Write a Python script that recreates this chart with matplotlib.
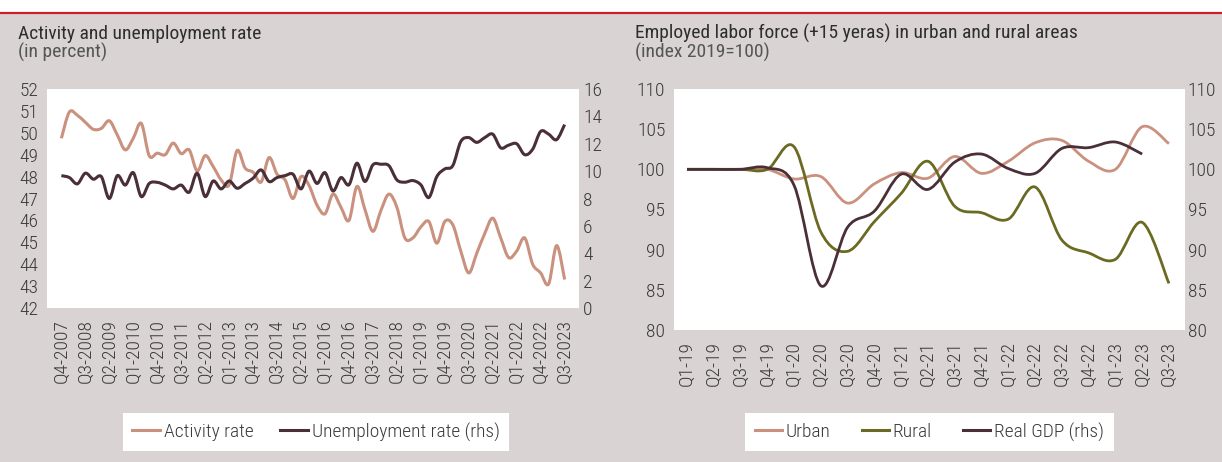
import numpy as np
import matplotlib
matplotlib.use('Agg')
from matplotlib import pyplot as plt
from matplotlib.path import Path
from matplotlib.patches import PathPatch, Rectangle
from matplotlib.lines import Line2D

plt.rcParams['font.family'] = ['Liberation Sans Narrow', 'Roboto Condensed', 'DejaVu Sans']
plt.rcParams['font.stretch'] = 'condensed'
plt.rcParams['font.weight'] = 'light'

# left chart: Q4-2007 .. Q3-2023
quarters = [f'Q{q}-{y}' for y in range(2007, 2024) for q in range(1, 5)][3:-1]
activity_rate = [49.75, 50.95, 50.8, 50.48, 50.16, 50.2, 50.55, 49.9, 49.22, 49.75,
                 50.43, 48.95, 49.07, 49.0, 49.53, 49.05, 49.22, 48.26, 48.96, 48.46,
                 47.85, 47.62, 49.19, 48.39, 48.2, 47.75, 48.87, 48.11, 47.85, 47.0,
                 48.0, 47.6, 46.7, 46.3, 47.2, 46.6, 46.0, 47.55, 46.5, 45.5,
                 46.45, 47.2, 46.6, 45.2, 45.2, 45.7, 45.95, 44.96, 45.95, 45.8,
                 44.6, 43.6, 44.5, 45.4, 46.1, 45.2, 44.3, 44.6, 45.2, 44.0,
                 43.6, 43.1, 44.85, 43.3]
unemployment_rate = [9.67, 9.53, 9.07, 9.85, 9.41, 9.6, 8.0, 9.67, 8.98, 9.89,
                     8.14, 9.1, 9.18, 8.98, 8.7, 8.98, 8.46, 9.85, 8.14, 9.28,
                     8.7, 9.28, 8.75, 9.1, 9.48, 10.09, 9.24, 9.53, 9.67, 9.77,
                     8.7, 10.0, 9.1, 9.89, 8.55, 9.53, 9.0, 10.58, 9.24, 10.46,
                     10.5, 10.4, 9.36, 9.19, 9.31, 9.0, 8.07, 9.6, 10.16, 10.4,
                     12.16, 12.45, 12.1, 12.45, 12.7, 11.7, 11.9, 12.0, 11.2, 11.6,
                     12.9, 12.7, 12.3, 13.4]

# right chart: Q1-19 .. Q3-23
quarters_short = ['Q1-19', 'Q2-19', 'Q3-19', 'Q4-19', 'Q1-20', 'Q2-20', 'Q3-20', 'Q4-20',
                  'Q1-21', 'Q2-21', 'Q3-21', 'Q4-21', 'Q1-22', 'Q2-22', 'Q3-22', 'Q4-22',
                  'Q1-23', 'Q2-23', 'Q3-23']
urban = [100.0, 100.0, 100.0, 100.0, 98.8, 99.1, 95.8, 98.2, 99.6, 98.9,
         101.6, 99.5, 101.0, 103.3, 103.6, 101.0, 100.0, 105.3, 103.2]
rural = [100.0, 100.0, 100.0, 100.0, 102.8, 92.2, 89.8, 93.5, 97.0, 101.0,
         95.4, 94.6, 93.8, 97.8, 91.2, 89.6, 88.8, 93.4, 85.8]
real_gdp = [100.0, 100.0, 100.0, 100.2, 98.0, 85.5, 92.8, 94.8, 99.4, 97.5,
            100.9, 101.9, 100.1, 99.5, 102.6, 102.7, 103.4, 101.9]

PINK = '#c9917e'
DARK = '#4a2f37'
OLIVE = '#6b6a22'
BG = '#d9d3d3'
RED = '#c8202f'
TXT = '#3a3a3a'
W, H = 1222, 462


def smooth_path(y):
    # excel-like smoothed line (catmull-rom bezier through the points)
    x = np.arange(len(y), dtype=float)
    y = np.asarray(y, dtype=float)
    n = len(y)
    verts = [(x[0], y[0])]
    codes = [Path.MOVETO]
    for i in range(n - 1):
        p0 = max(i - 1, 0)
        p3 = min(i + 2, n - 1)
        c1 = (x[i] + (x[i + 1] - x[p0]) / 6, y[i] + (y[i + 1] - y[p0]) / 6)
        c2 = (x[i + 1] - (x[p3] - x[i]) / 6, y[i + 1] - (y[p3] - y[i]) / 6)
        verts += [c1, c2, (x[i + 1], y[i + 1])]
        codes += [Path.CURVE4] * 3
    return Path(verts, codes)


def draw(ax, y, color, lw=2.0):
    ax.add_patch(PathPatch(smooth_path(y), fill=False, edgecolor=color, lw=lw,
                           capstyle='butt', joinstyle='round'))


def style(ax, pad):
    for s in ax.spines.values():
        s.set_visible(False)
    ax.tick_params(axis='both', length=0, labelsize=14, colors=TXT)
    ax.tick_params(axis='y', pad=pad)


def box(x0, y0, x1, y1):
    return [x0 / W, 1 - y1 / H, (x1 - x0) / W, (y1 - y0) / H]


fig = plt.figure(figsize=(W / 100, H / 100), dpi=100, facecolor=BG)
fig.add_artist(Rectangle((0, 1 - 12 / H), 1, 12 / H, transform=fig.transFigure,
                         facecolor='white', edgecolor='none'))
fig.add_artist(Line2D([0, 1], [1 - 13 / H] * 2, transform=fig.transFigure, color=RED, lw=1.6))

# ---- left chart
ax = fig.add_axes(box(47, 89, 579, 308))
ax.set_facecolor('white')
ax2 = ax.twinx()
draw(ax, activity_rate, PINK, 2.2)
draw(ax2, unemployment_rate, DARK, 2.2)
ax.set_xlim(-1.8, 64.8)
ax.set_ylim(42, 52)
ax2.set_ylim(0, 16)
ax.set_yticks(range(42, 53))
ax2.set_yticks(range(0, 17, 2))
ax.set_xticks(range(0, len(quarters), 3))
ax.set_xticklabels(quarters[::3], rotation=90)
style(ax, 6)
style(ax2, 3)
ax.tick_params(axis='x', pad=8)

fig.text(18 / W, 1 - 39 / H, 'Activity and unemployment rate', fontsize=14,
         fontweight='normal', color='#2e2e2e', va='baseline')
fig.text(18 / W, 1 - 58 / H, '(in percent)', fontsize=14, fontweight='normal',
         color='#555555', va='baseline')

h1 = [Line2D([], [], color=PINK, lw=2.2), Line2D([], [], color=DARK, lw=2.2)]
fig.legend(h1, ['Activity rate', 'Unemployment rate (rhs)'], loc='center',
           bbox_to_anchor=(316 / W, 1 - 432 / H), ncol=2, frameon=True, fancybox=False,
           facecolor='white', edgecolor='none', framealpha=1, fontsize=14,
           handlelength=1.4, handletextpad=0.2, columnspacing=1.4, borderpad=0.5,
           labelcolor=TXT)

# ---- right chart
bx = fig.add_axes(box(673.6, 89, 1185, 330))
bx.set_facecolor('white')
bx2 = bx.twinx()
draw(bx, urban, PINK, 2.0)
draw(bx, rural, OLIVE, 2.0)
draw(bx2, real_gdp, DARK, 2.0)
bx.set_xlim(-0.5, 18.6)
for a in (bx, bx2):
    a.set_ylim(80, 110)
    a.set_yticks(range(80, 111, 5))
bx.set_xticks(range(len(quarters_short)))
bx.set_xticklabels(quarters_short, rotation=90)
style(bx, 6)
style(bx2, 2)
bx.tick_params(axis='x', pad=8)

fig.text(635 / W, 1 - 39 / H, 'Employed labor force (+15 yeras) in urban and rural areas',
         fontsize=14, fontweight='normal', color='#2e2e2e', va='baseline')
fig.text(635 / W, 1 - 58 / H, '(index 2019=100)', fontsize=14, fontweight='normal',
         color='#555555', va='baseline')

h2 = [Line2D([], [], color=c, lw=2.2) for c in (PINK, OLIVE, DARK)]
fig.legend(h2, ['Urban', 'Rural', 'Real GDP (rhs)'], loc='center',
           bbox_to_anchor=(929.5 / W, 1 - 432 / H), ncol=3, frameon=True, fancybox=False,
           facecolor='white', edgecolor='none', framealpha=1, fontsize=14,
           handlelength=1.4, handletextpad=0.2, columnspacing=1.6, borderpad=0.5,
           labelcolor=TXT)

fig.savefig('out.png', dpi=100, facecolor=BG)
